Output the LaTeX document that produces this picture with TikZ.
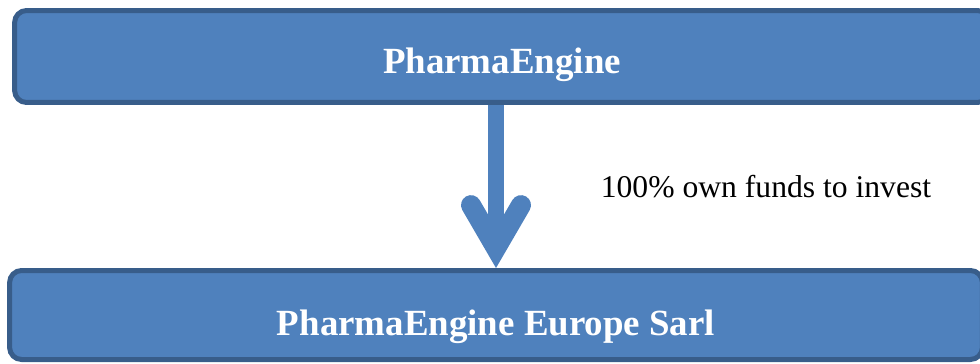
\documentclass[tikz,border=0pt]{standalone}
\usepackage{fontspec}
\setmainfont{Liberation Serif}
\usetikzlibrary{arrows.meta,positioning}
\definecolor{boxfill}{HTML}{4F81BD}
\definecolor{boxedge}{HTML}{385D8A}

\begin{document}
\begin{tikzpicture}[x=0.02cm,y=-0.02cm]
    \tikzstyle{company}=[rectangle,rounded corners=0.24cm,draw=boxedge,fill=boxfill,line width=0.1cm,text=white,text depth=0pt,font=\fontsize{21}{25}\selectfont\bfseries]
    \tikzstyle{flow}=[draw=boxfill,line width=0.32cm,-{Straight Barb[line cap=round,line join=miter,line width=0.4cm,length=0.86cm,width=1.0cm]}]
    \tikzstyle{annot}=[font=\fontsize{18}{22}\selectfont,inner sep=0pt]

    \useasboundingbox (0,0) rectangle (980,363);

    % Draw the two companies
    \node[company, text height=0.66cm, minimum width=19.5cm, minimum height=1.84cm] (engine) at (502,56.5) {PharmaEngine};
    \node[company, text height=0.8cm, minimum width=19.46cm, minimum height=1.78cm] (europe) at (496,315) {PharmaEngine Europe Sarl};

    % Funds go down to the subsidiary
    \draw[flow] (engine.south -| europe.north) -- (europe.north);
    \node[annot] (funds) at (766,187) {100\% own funds to invest};
\end{tikzpicture}
\end{document}
